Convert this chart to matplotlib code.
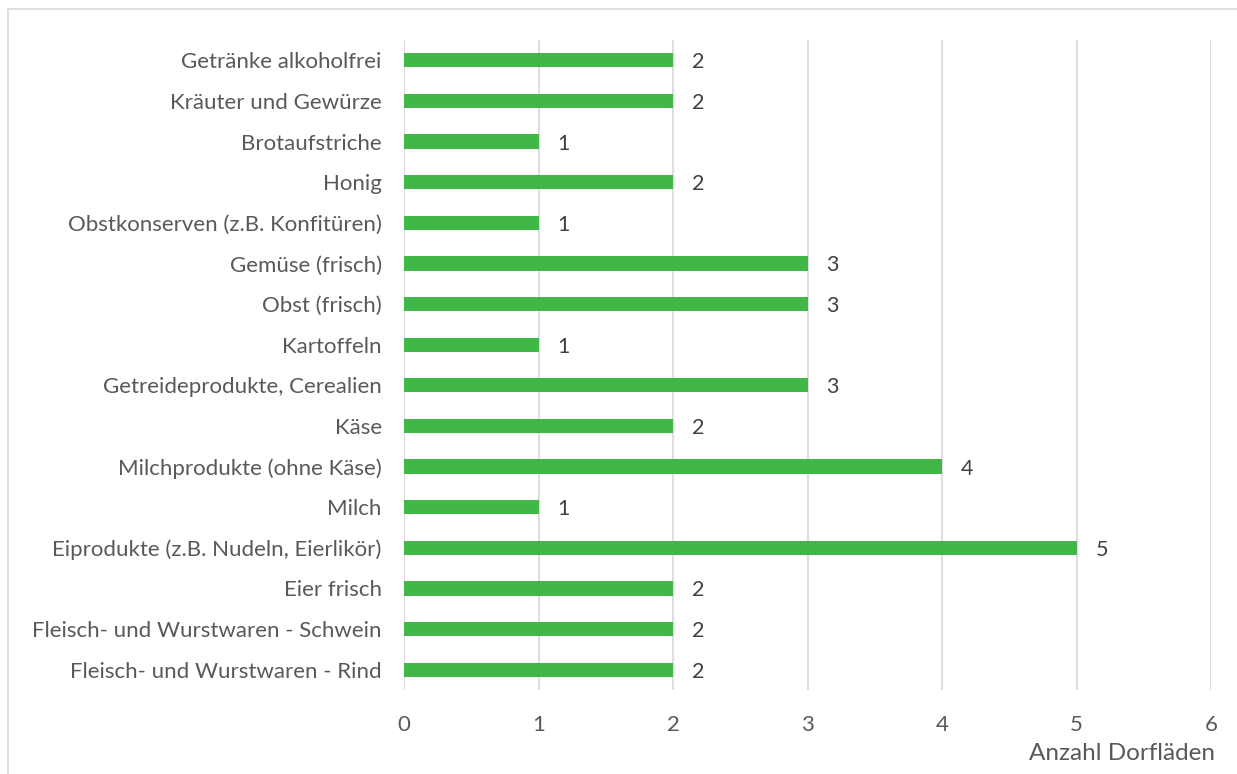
import matplotlib.pyplot as plt
from matplotlib.lines import Line2D

# Daten (von oben nach unten)
kategorien = [
    "Getränke alkoholfrei",
    "Kräuter und Gewürze",
    "Brotaufstriche",
    "Honig",
    "Obstkonserven (z.B. Konfitüren)",
    "Gemüse (frisch)",
    "Obst (frisch)",
    "Kartoffeln",
    "Getreideprodukte, Cerealien",
    "Käse",
    "Milchprodukte (ohne Käse)",
    "Milch",
    "Eiprodukte (z.B. Nudeln, Eierlikör)",
    "Eier frisch",
    "Fleisch- und Wurstwaren - Schwein",
    "Fleisch- und Wurstwaren - Rind",
]
anzahl = [2, 2, 1, 2, 1, 3, 3, 1, 3, 2, 4, 1, 5, 2, 2, 2]
x_ticks = [0, 1, 2, 3, 4, 5, 6]

plt.rcParams["font.family"] = ["Lato", "DejaVu Sans"]

fig = plt.figure(figsize=(12.37, 7.74), dpi=100)
ax = fig.add_axes([404 / 1237, 1 - 690 / 774, (1211 - 404) / 1237, 650 / 774])

pos = list(range(len(kategorien)))[::-1]
ax.barh(pos, anzahl, height=0.35, color="#41B649", zorder=3)

for p, v in zip(pos, anzahl):
    ax.text(v + 0.14, p, str(v), va="center_baseline", ha="left",
            fontsize=15.5, color="#404040")

ax.set_xlim(0, 6)
ax.set_ylim(-0.5, len(kategorien) - 0.5)
ax.set_xticks(x_ticks)
ax.set_yticks(pos)
ax.set_yticklabels(kategorien, va="center_baseline")
ax.tick_params(axis="both", length=0, labelsize=16, labelcolor="#595959")
ax.tick_params(axis="x", pad=18)
ax.tick_params(axis="y", pad=16)
ax.grid(axis="x", color="#dedede", linewidth=1.5, zorder=0)
for s in ax.spines.values():
    s.set_visible(False)

fig.text(1215 / 1237, 1 - 754 / 774, "Anzahl Dorfläden", ha="right", va="center",
         fontsize=17.5, color="#595959")

# Rahmen oben und links
fig.add_artist(Line2D([8 / 1237, 1], [1 - 9 / 774, 1 - 9 / 774],
                      transform=fig.transFigure, color="#d9d9d9", linewidth=1.2))
fig.add_artist(Line2D([8 / 1237, 8 / 1237], [0, 1 - 9 / 774],
                      transform=fig.transFigure, color="#d9d9d9", linewidth=1.2))

fig.savefig("out.png", dpi=100)
plt.close(fig)
